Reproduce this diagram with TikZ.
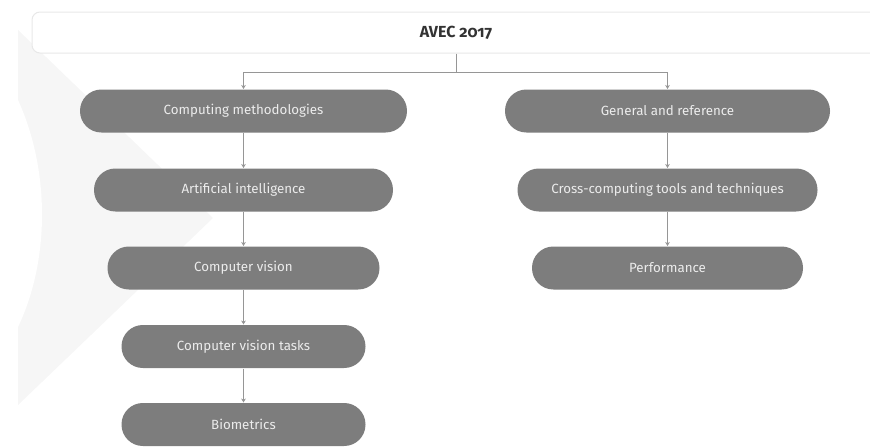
\documentclass[tikz,border=0pt]{standalone}
\usepackage{fontspec}
\setmainfont{Fira Sans}
\usetikzlibrary{arrows.meta}

\definecolor{boxgray}{RGB}{125,125,125}
\definecolor{boxtext}{RGB}{236,236,236}
\definecolor{linegray}{RGB}{150,150,150}
\definecolor{markgray}{RGB}{246,246,246}
\definecolor{framegray}{RGB}{232,232,232}

\tikzset{every picture/.style={line width=0.75pt}}
\tikzset{
  topbox/.style={draw=framegray, fill=white, rounded corners=6pt, minimum height=30.75pt, inner sep=0pt,
    font=\fontsize{12}{14}\selectfont\bfseries\addfontfeatures{Numbers=OldStyle}, text=black!80},
  termbox/.style={fill=boxgray, rounded corners=16pt, minimum height=32.25pt, inner sep=0pt,
    font=\fontsize{10}{12}\selectfont, text=boxtext},
  link/.style={draw=linegray, -{Stealth[length=3pt,width=3.5pt]}}
}

\begin{document}
\begin{tikzpicture}[x=0.75pt,y=0.75pt,yscale=-1,xscale=1]
\useasboundingbox (0,0) rectangle (870,446);

%Shape: watermark
\fill [markgray] (18,30) -- (213,218) -- (18,405) -- cycle ;
\fill [white] (18,100) .. controls (50,170) and (50,260) .. (18,327) -- cycle ;

% Text Node
\node [topbox, minimum width=636pt] (avec) at (456,32.5) {AVEC 2017};

% left column
\node [termbox, minimum width=245.25pt] (comp) at (243.5,111) {Computing methodologies};
\node [termbox, minimum width=224.25pt] (ai) at (243.5,190) {Artificial intelligence};
\node [termbox, minimum width=204pt] (cv) at (243.5,268) {Computer vision};
\node [termbox, minimum width=183pt] (cvt) at (243.5,346.5) {Computer vision tasks};
\node [termbox, minimum width=183pt] (bio) at (243.5,424.5) {Biometrics};

% right column
\node [termbox, minimum width=243.75pt] (gen) at (667.5,111) {General and reference};
\node [termbox, minimum width=225pt] (cross) at (667.5,190) {Cross-computing tools and techniques};
\node [termbox, minimum width=203.25pt] (perf) at (667.5,268) {Performance};

%Straight Lines
\draw [linegray] (avec.south) -- ++(0,19) coordinate (fork) ;
\draw [link] (fork) -| (comp.north) ;
\draw [link] (fork) -| (gen.north) ;
\draw [link] (comp) -- (ai) ;
\draw [link] (ai) -- (cv) ;
\draw [link] (cv) -- (cvt) ;
\draw [link] (cvt) -- (bio) ;
\draw [link] (gen) -- (cross) ;
\draw [link] (cross) -- (perf) ;

\end{tikzpicture}
\end{document}
